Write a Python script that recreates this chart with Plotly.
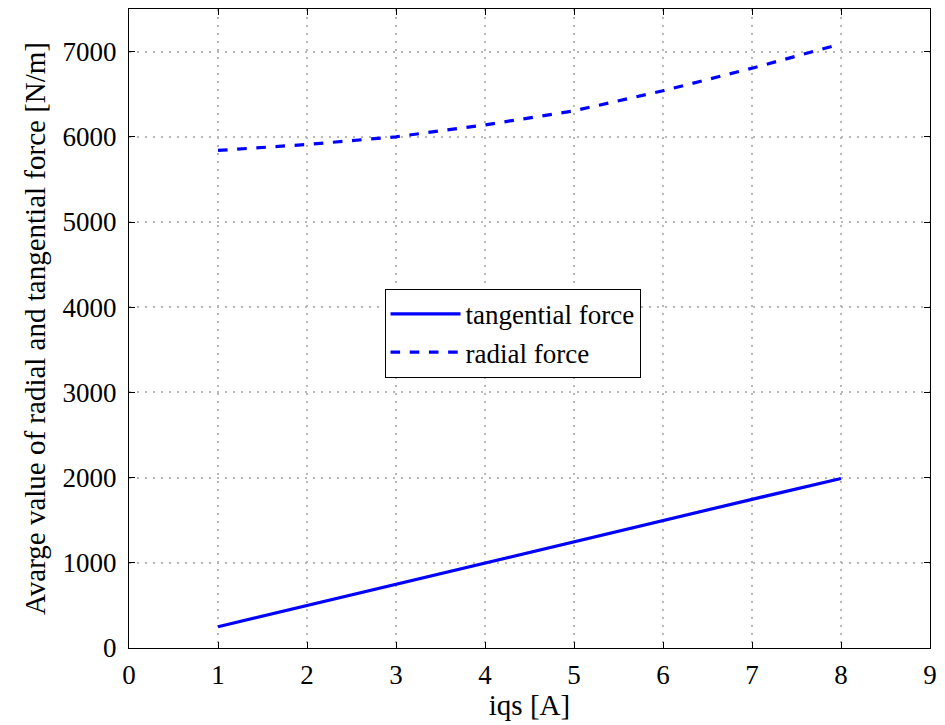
import plotly.graph_objects as go

iqs = [1, 2, 3, 4, 5, 6, 7, 8]
tangential = [250, 500, 750, 1000, 1250, 1500, 1745, 1990]
radial = [5840, 5910, 6000, 6140, 6305, 6540, 6805, 7090]

FONT = "Liberation Serif, Times New Roman, serif"

fig = go.Figure()
fig.add_trace(go.Scatter(x=iqs, y=tangential, mode="lines", name="tangential force",
                         line=dict(color="#0000ff", width=3.2)))
fig.add_trace(go.Scatter(x=iqs, y=radial, mode="lines", name="radial force",
                         line=dict(color="#0000ff", width=3.2, dash="dash")))

axis_common = dict(showline=True, linecolor="black", linewidth=1.2, mirror="ticks",
                   ticks="inside", ticklen=6, tickcolor="black",
                   showgrid=True, gridcolor="#b8b8b8", griddash="2px,6px", gridwidth=1.5,
                   zeroline=False, tickfont=dict(family=FONT, size=27, color="black"))

fig.update_layout(
    width=945, height=725,
    margin=dict(l=129, r=8, t=9, b=77),
    paper_bgcolor="white", plot_bgcolor="white",
    font=dict(family=FONT, size=27, color="black"),
    xaxis=dict(range=[0, 9], dtick=1, ticklabelstandoff=2,
               title=dict(text="iqs [A]", font=dict(family=FONT, size=29), standoff=2),
               **axis_common),
    yaxis=dict(range=[0, 7500], tickvals=[0, 1000, 2000, 3000, 4000, 5000, 6000, 7000],
               ticklabelstandoff=6,
               title=dict(text="Avarge value of radial and tangential force [N/m]", font=dict(family=FONT, size=29), standoff=8),
               **axis_common),
    legend=dict(x=0.319, y=0.562, xanchor="left", yanchor="top",
                bgcolor="white", bordercolor="black", borderwidth=1,
                font=dict(family=FONT, size=27), tracegroupgap=0, itemwidth=70),
    showlegend=True,
)

fig.write_html("out.html")
